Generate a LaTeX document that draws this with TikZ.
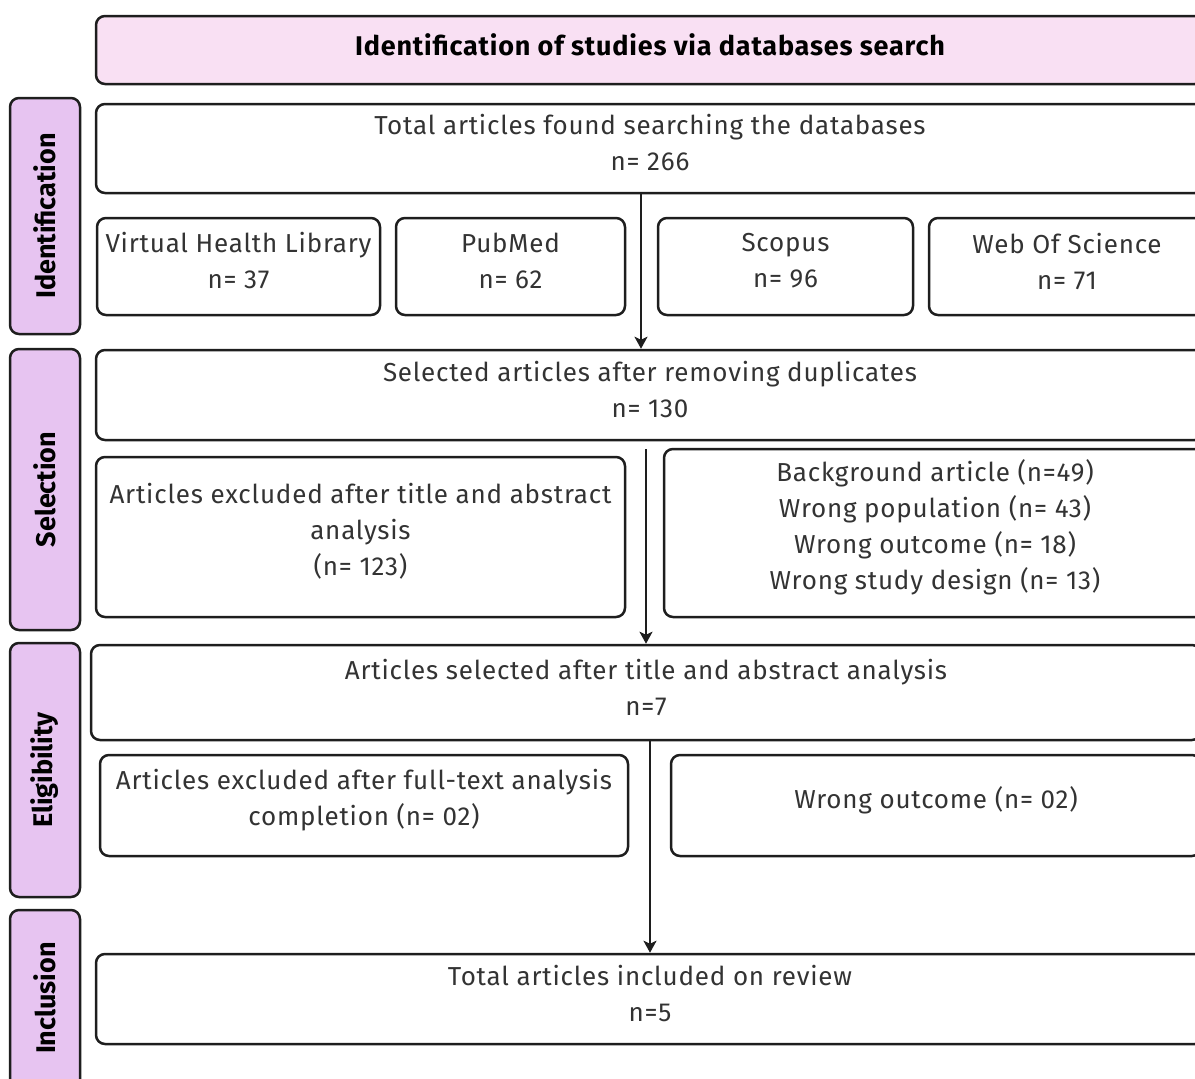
\documentclass[tikz,border=0pt]{standalone}
\usepackage{fontspec}
\setmainfont{Fira Sans}
\newfontfamily\bodyfont[LetterSpace=3]{Fira Sans}
\newfontfamily\headfont[LetterSpace=3]{Fira Sans}
\usetikzlibrary{arrows.meta}
\definecolor{linec}{HTML}{1E1E1E}
\definecolor{textc}{HTML}{333333}
\definecolor{headfill}{HTML}{F9E0F3}
\definecolor{sidefill}{HTML}{E7C4F1}
\newcommand\bx[6]{%
  \node[box, minimum width=#4, minimum height=#5] (#1) at (#2,#3) {};
  \node[txt] (#1-t) at ([yshift=5.5pt]#1.center) {#6};}
\begin{document}
\begin{tikzpicture}[x=1pt,y=-1pt,
  box/.style={draw=linec, line width=2.5pt, rounded corners=9pt, fill=white, inner sep=0pt},
  txt/.style={align=center, text=textc, font=\bodyfont\fontsize{26}{36}\selectfont, inner sep=0pt},
  headbox/.style={box, fill=headfill},
  headtxt/.style={text=black, font=\headfont\fontsize{27}{30}\selectfont\bfseries, inner sep=0pt},
  sidebox/.style={draw=linec, line width=2.5pt, rounded corners=9pt, fill=sidefill,
    minimum width=70, inner sep=0pt},
  sidetxt/.style={rotate=90, text=black, font=\fontsize{27}{30}\selectfont\bfseries, inner sep=0pt},
  arr/.style={draw=linec, line width=2.3pt, -{Stealth[length=12pt,width=13pt,inset=3pt]}}]
\useasboundingbox (0,0) rectangle (1195,1079);
\clip (0,0) rectangle (1195,1079);
% header
\node[headbox, minimum width=1108, minimum height=68] (head) at (650,50) {};
\node[headtxt] (head-t) at ([yshift=5pt]head.center) {Identification of studies via databases search};
% side labels
\node[sidebox, minimum height=236] (sident) at (45,216) {};
\node[sidetxt] (tident) at (sident.center) {Identification};
\node[sidebox, minimum height=281] (ssel) at (45,489.5) {};
\node[sidetxt] (tsel) at (ssel.center) {Selection};
\node[sidebox, minimum height=254] (selig) at (45,770) {};
\node[sidetxt] (telig) at (selig.center) {Eligibility};
\node[sidebox, minimum height=180] (sinc) at (45,1000) {};
\node[sidetxt] (tinc) at (45,998) {Inclusion};
% boxes
\bx{total}{650}{148.5}{1108}{89}{Total articles found searching the databases\\n= 266}
\bx{vhl}{238.5}{266.5}{283}{97}{Virtual Health Library\\n= 37}
\bx{pub}{510.5}{266.5}{229}{97}{PubMed\\n= 62}
\bx{sco}{785.5}{266.5}{255}{97}{Scopus\\n= 96}
\bx{wos}{1067}{266.5}{276}{97}{Web Of Science\\n= 71}
\bx{selected}{650}{395}{1108}{90}{Selected articles after removing duplicates\\n= 130}
\bx{excl}{360.5}{537}{529}{160}{Articles excluded after title and abstract\\analysis\\(n= 123)}
\bx{reasons}{935}{533}{542}{168}{Background article (n=49)\\Wrong population (n= 43)\\Wrong outcome (n= 18)\\Wrong study design (n= 13)}
\bx{artsel}{646}{692.5}{1110}{95}{Articles selected after title and abstract analysis\\n=7}
\bx{exft}{364}{805.5}{528}{101}{Articles excluded after full-text analysis\\completion (n= 02)}
\bx{wo}{936}{805.5}{530}{101}{Wrong outcome (n= 02)}
\bx{incl}{650}{999}{1108}{90}{Total articles included on review\\n=5}
% arrows
\coordinate (a1) at (641,0);
\coordinate (a2) at (646,0);
\coordinate (a3) at (650,0);
\draw[arr] (a1 |- total.south) -- (a1 |- selected.north);
\draw[arr, shorten <=8pt] (a2 |- selected.south) -- (a2 |- artsel.north);
\draw[arr] (a3 |- artsel.south) -- (a3 |- incl.north);
\end{tikzpicture}
\end{document}
